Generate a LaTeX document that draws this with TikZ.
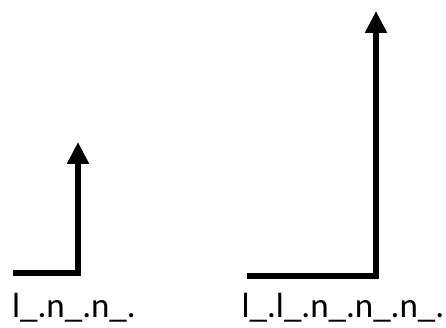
\documentclass[tikz,border=0pt]{standalone}
\usepackage{fontspec}
\setmainfont{Carlito}
\usetikzlibrary{arrows.meta}
\tikzset{elbow/.style = {line width = 6pt, line join = miter,
                         -{Triangle[length = 22pt, width = 21pt]}}}
\tikzset{lbl/.style = {anchor = base, inner sep = 0, font = \fontsize{35}{40}\selectfont}}

\begin{document}
\begin{tikzpicture}[x = 1pt, y = -1pt]
    \useasboundingbox (0, 0) rectangle (446, 328);

    % small one
    \coordinate (sa) at (13, 273);
    \coordinate (ca) at (78, 273);
    \coordinate (ta) at (78, 142);
    \draw [elbow] (sa) -- (ca) -- (ta);
    \node [lbl] (la) at (74, 317) {l\_.n\_.n\_.};

    % big one
    \coordinate (sb) at (247, 276);
    \coordinate (cb) at (376, 276);
    \coordinate (tb) at (376, 11);
    \draw [elbow] (sb) -- (cb) -- (tb);
    \node [lbl] (lb) at (343, 317) {l\_.l\_.n\_.n\_.n\_.};
  \end{tikzpicture}
\end{document}
